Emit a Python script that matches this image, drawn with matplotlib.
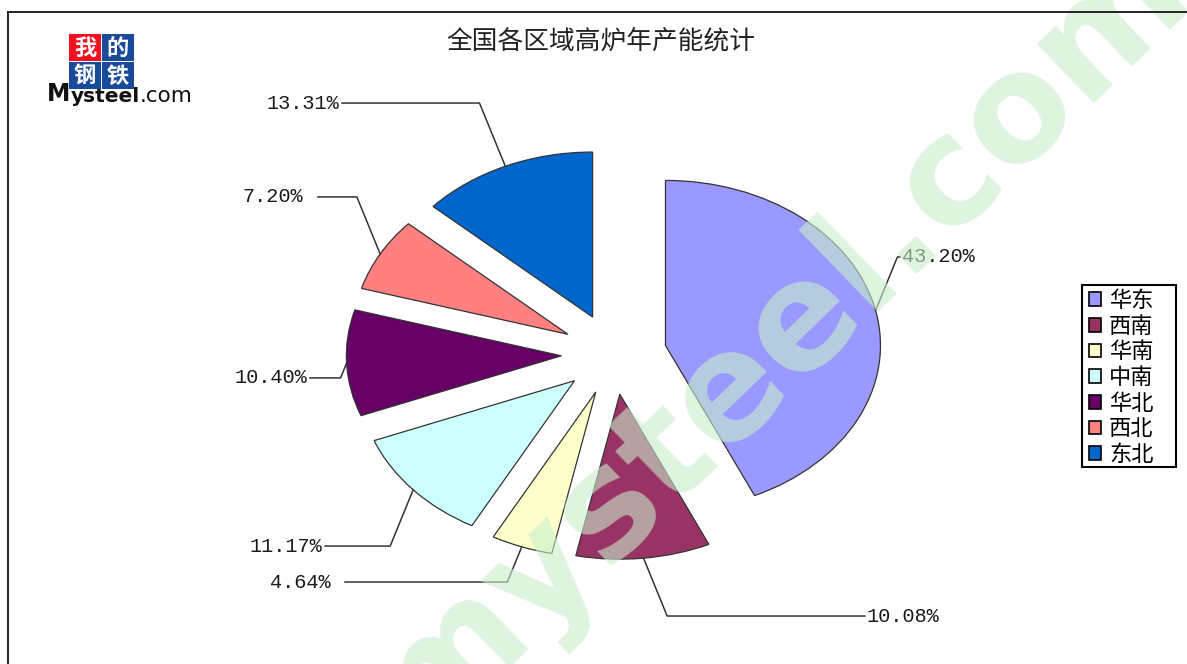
import matplotlib
matplotlib.use("Agg")
import matplotlib.pyplot as plt
from matplotlib.patches import Rectangle
from matplotlib.lines import Line2D
import numpy as np

# data
regions = ['华东', '西南', '华南', '中南', '华北', '西北', '东北']
shares = [43.20, 10.08, 4.64, 11.17, 10.40, 7.20, 13.31]
colors = ['#9999ff', '#993366', '#ffffcc', '#ccffff', '#660066', '#ff8080', '#0066cc']

# label layout (data units): height of each label and x where its leader ends
label_y = [0.588, -1.588, -1.382, -1.164, -0.145, 0.952, 1.521]
label_x = [1.330, 1.167, -1.251, -1.344, -1.414, -1.377, -1.265]

W, H = 1187, 664
cx, cy = 614, 354      # pie centre, pixels
rx, ry = 215, 165      # the original chart is stretched sideways
explode = 0.245
cjk = ['Noto Sans CJK SC', 'DejaVu Sans']


def fx(px):
    return px / W


def fy(py):
    return 1 - py / H


fig = plt.figure(figsize=(W / 100, H / 100), dpi=100)
ax = fig.add_axes([0, 0, 1, 1])

wedges, _ = ax.pie(shares, colors=colors, startangle=90, counterclock=False,
                   explode=[explode] * len(shares),
                   wedgeprops=dict(edgecolor='#333333', linewidth=0.9))
ax.set_aspect('auto')
ax.set_xlim(-cx / rx, (W - cx) / rx)
ax.set_ylim(-(H - cy) / ry, cy / ry)
ax.axis('off')

# leader lines + percentage labels
char_w = 12.2 / rx
for w, v, ly, lx in zip(wedges, shares, label_y, label_x):
    mid = np.deg2rad((w.theta1 + w.theta2) / 2)
    px = (1 + explode) * np.cos(mid)
    py = (1 + explode) * np.sin(mid)
    side = 1 if lx > 0 else -1
    ex = px + side * abs(py - ly) * ry / rx / 2.45
    ax.plot([px, ex, lx], [py, ly, ly], color='#333333', lw=1.1, zorder=3)
    txt = '%.2f%%' % v
    if side > 0:
        tx = lx + 2 / rx
    else:
        tx = lx - 2 / rx - 6 * char_w
    ax.text(tx, ly, txt, ha='left', va='center', family='Liberation Mono',
            fontsize=14.6, color='#1a1a1a', zorder=4)

# watermark
wm = dict(fontsize=108, fontweight='bold', color='#c9eec9', alpha=0.6,
          rotation=44, rotation_mode='anchor', ha='center', va='center',
          zorder=10, family='DejaVu Sans')
ax.text((780 - cx) / rx, (cy - 338) / ry, 'mysteel.com', **wm)
ax.text((-285 - cx) / rx, (cy - 235) / ry, 'mysteel.com', **wm)

# title
fig.text(fx(601), fy(42), '全国各区域高炉年产能统计', ha='center', va='center',
         family=cjk, fontsize=18.5, color='#222222')

# legend (frame drawn separately to match the original box)
leg = ax.legend(wedges, regions, loc='upper left',
                bbox_to_anchor=(fx(1089), fy(289)), bbox_transform=fig.transFigure,
                borderaxespad=0, frameon=False, borderpad=0,
                handlelength=0.55, handleheight=0.55, handletextpad=0.35,
                labelspacing=0.12, prop={'family': cjk, 'size': 16})
leg.set_zorder(11)
for h in leg.legend_handles:
    h.set_edgecolor('black')
    h.set_linewidth(1.2)
fig.add_artist(Rectangle((fx(1082), fy(467)), 94 / W, 182 / H, transform=fig.transFigure,
                         facecolor='none', edgecolor='black', lw=1.5))

# frame lines
fig.add_artist(Line2D([fx(8), 1], [fy(12), fy(12)], color='#222222', lw=1.4))
fig.add_artist(Line2D([fx(8), fx(8)], [0, fy(12)], color='#222222', lw=1.4))

# logo
boxes = [('我', 69, 34, '#f01020'), ('的', 102, 34, '#1a4b9b'),
         ('钢', 69, 62, '#1a4b9b'), ('铁', 102, 62, '#1a4b9b')]
for ch, bx, by, c in boxes:
    fig.add_artist(Rectangle((fx(bx), fy(by + 27)), 32 / W, 27 / H,
                             transform=fig.transFigure, facecolor=c, edgecolor='none'))
    fig.text(fx(bx + 16), fy(by + 14), ch, ha='center', va='center', color='white',
             family=cjk, fontsize=16, fontweight='bold')
t1 = fig.text(fx(47), fy(101), 'M', ha='left', va='baseline', family='DejaVu Sans',
              fontsize=17, fontweight='bold', color='#111111')
t2 = ax.annotate('ysteel', xy=(1, 0), xycoords=t1, va='bottom', ha='left',
                 family='DejaVu Sans', fontsize=14.5, fontweight='bold', color='#111111',
                 annotation_clip=False)
ax.annotate('.com', xy=(1, 0), xycoords=t2, va='bottom', ha='left',
            family='DejaVu Sans', fontsize=15.5, color='#111111', annotation_clip=False)

fig.savefig('out.png', dpi=100)
